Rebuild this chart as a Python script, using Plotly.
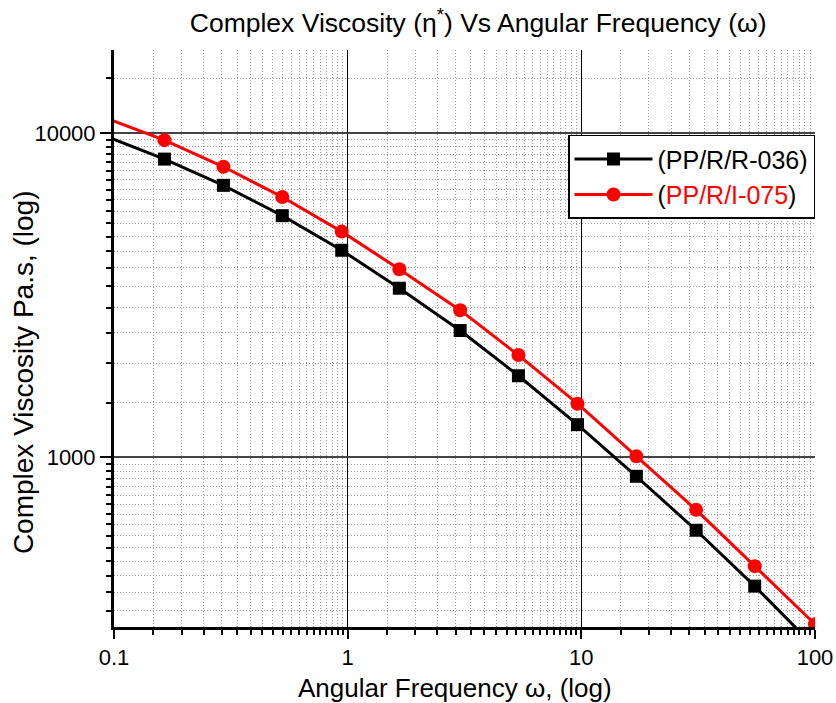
import numpy as np
import plotly.graph_objects as go

# ---- data ----
freq = [0.0924, 0.1644, 0.294, 0.525, 0.943, 1.664, 3.03, 5.38, 9.63, 17.2, 31.0, 55.2, 100]
eta_R036 = [9760, 8300, 6890, 5555, 4346, 3320, 2459, 1784, 1261, 874, 596, 401, 260]
eta_I075 = [11100, 9495, 7860, 6342, 4961, 3799, 2841, 2066, 1463, 1007, 689, 462, 306]

x_ticks = [0.1, 1, 10, 100]
x_ticktext = ["0.1", "1", "10", "100"]
y_ticks = [1000, 10000]
y_ticktext = ["1000", "10000"]

series_names = ["(PP/R/R-036)", "(<span style='color:#ff0000'>PP/R/I-075</span>)"]


def linear_minor(decades):
    vals = []
    for d in decades:
        lo = 10.0 ** d
        hi = 10.0 ** (d + 1)
        step = (hi - lo) / 19.0
        vals += [lo + k * step for k in range(1, 19)]
    return vals


x_minor = linear_minor([-1, 0, 1])
y_minor = linear_minor([2, 3, 4])

FONT = "Liberation Sans, Arial, sans-serif"

fig = go.Figure()
fig.add_trace(go.Scatter(
    x=freq, y=eta_R036, name=series_names[0], mode="lines+markers",
    line=dict(color="#000000", width=3),
    marker=dict(symbol="square", size=13, color="#000000"),
))
fig.add_trace(go.Scatter(
    x=freq, y=eta_I075, name=series_names[1], mode="lines+markers",
    line=dict(color="#ff0000", width=3),
    marker=dict(symbol="circle", size=14, color="#ff0000"),
))

fig.update_layout(
    width=836, height=703,
    margin=dict(l=114, r=21, t=50, b=76, autoexpand=False),
    paper_bgcolor="white", plot_bgcolor="white",
    font=dict(family=FONT, color="black", size=21),
    title=dict(
        text="Complex Viscosity (η<sup>*</sup>) Vs Angular Frequency (ω)",
        x=0.572, xanchor="center", y=0.968, yanchor="middle",
        font=dict(size=26.5, family=FONT),
    ),
    showlegend=True,
    legend=dict(
        x=1.0, xanchor="right", y=0.853, yanchor="top",
        bgcolor="white", bordercolor="black", borderwidth=1.5,
        font=dict(size=25, family=FONT, color="black"),
        itemwidth=78, tracegroupgap=0,
    ),
    annotations=[
        dict(text="Angular Frequency ω, (log)", xref="paper", yref="paper",
             x=0.487, y=-0.105, xanchor="center", yanchor="middle",
             showarrow=False, font=dict(size=26, family=FONT, color="black")),
        dict(text="Complex Viscosity Pa.s, (log)", xref="paper", yref="paper",
             x=-0.129, y=0.441, xanchor="center", yanchor="middle", textangle=-90,
             showarrow=False, font=dict(size=28, family=FONT, color="black")),
    ],
)

fig.update_xaxes(
    type="log", range=[-1, 2], automargin=False,
    tickmode="array", tickvals=x_ticks, ticktext=x_ticktext,
    ticks="outside", ticklen=9, tickwidth=2, tickcolor="black",
    showline=True, linecolor="black", linewidth=3, mirror=False,
    showgrid=True, gridcolor="#000000", gridwidth=1,
    zeroline=False,
    tickfont=dict(size=22, family=FONT),
    ticklabelstandoff=0,
    minor=dict(tickmode="array", tickvals=x_minor, ticks="outside", ticklen=5,
               tickwidth=2, tickcolor="black", showgrid=True,
               gridcolor="#9a9a9a", gridwidth=1, griddash="1px,2px"),
)
fig.update_yaxes(
    type="log", range=[np.log10(300), np.log10(18000)], automargin=False,
    tickmode="array", tickvals=y_ticks, ticktext=y_ticktext,
    ticks="outside", ticklen=11, tickwidth=2, tickcolor="black",
    showline=True, linecolor="black", linewidth=3, mirror=False,
    showgrid=True, gridcolor="#444444", gridwidth=1.5,
    zeroline=False,
    tickfont=dict(size=22, family=FONT),
    ticklabelstandoff=0,
    minor=dict(tickmode="array", tickvals=y_minor, ticks="outside", ticklen=5,
               tickwidth=2, tickcolor="black", showgrid=True,
               gridcolor="#9a9a9a", gridwidth=1, griddash="1px,2px"),
)

fig.write_html("out.html")
